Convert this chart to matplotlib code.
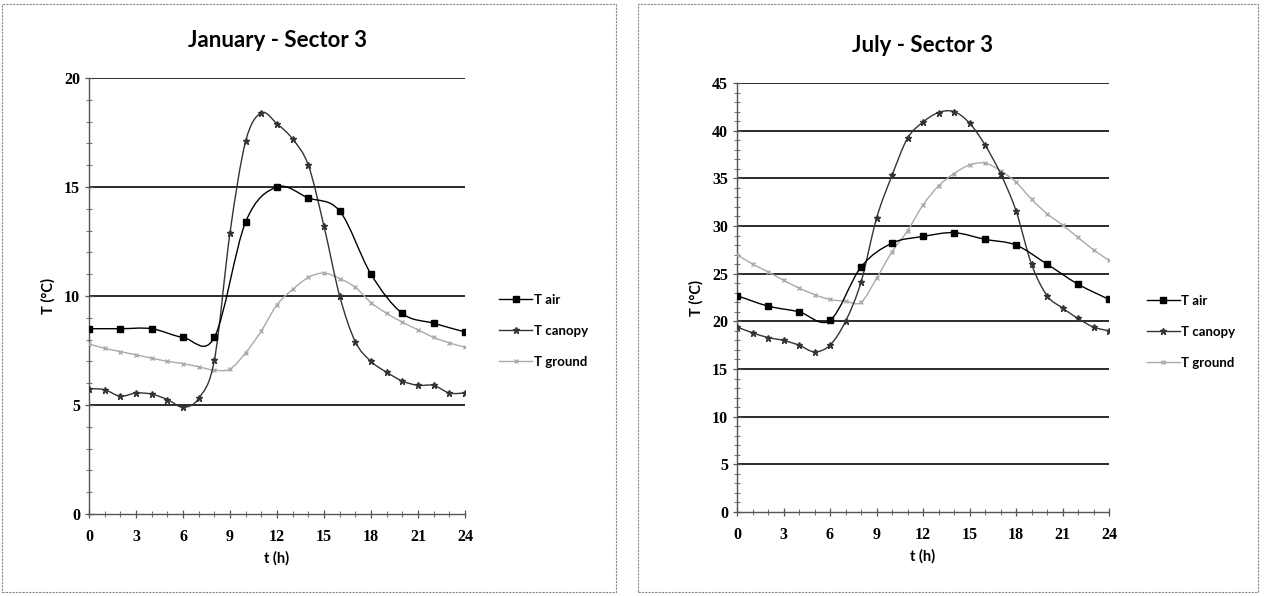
"""
Two-panel daily temperature profiles (January / July, sector 3).
"""

import matplotlib

matplotlib.use("Agg")

import matplotlib.pyplot as plt
import numpy as np
from matplotlib.lines import Line2D
from matplotlib.patches import PathPatch, Rectangle
from matplotlib.path import Path

# Hours of the day.
hours_2h = [0, 2, 4, 6, 8, 10, 12, 14, 16, 18, 20, 22, 24]
hours_1h = [0, 1, 2, 3, 4, 5, 6, 7, 8, 9, 10, 11, 12,
            13, 14, 15, 16, 17, 18, 19, 20, 21, 22, 23, 24]

# January - Sector 3.
jan_air = [8.5, 8.5, 8.5, 8.1, 8.1, 13.4, 15.0, 14.5, 13.9, 11.0, 9.2, 8.75, 8.35]
jan_canopy = [5.75, 5.7, 5.4, 5.55, 5.5, 5.25, 4.9, 5.3, 7.05, 12.9, 17.1, 18.4, 17.9,
              17.2, 16.0, 13.2, 10.0, 7.9, 7.0, 6.5, 6.1, 5.9, 5.9, 5.55, 5.55]
jan_ground = [7.8, 7.6, 7.45, 7.3, 7.15, 7.0, 6.9, 6.75, 6.6, 6.65, 7.4, 8.4, 9.6,
              10.3, 10.85, 11.05, 10.8, 10.4, 9.7, 9.2, 8.8, 8.45, 8.1, 7.85, 7.65]

# July - Sector 3.
jul_air = [22.7, 21.6, 21.0, 20.1, 25.7, 28.2, 28.9, 29.3, 28.6, 28.0, 26.0, 23.9, 22.3]
jul_canopy = [19.4, 18.8, 18.3, 18.0, 17.5, 16.8, 17.5, 20.0, 24.1, 30.8, 35.3, 39.2, 40.9,
              41.9, 42.0, 40.8, 38.5, 35.5, 31.6, 26.0, 22.7, 21.4, 20.3, 19.4, 19.0]
jul_ground = [27.0, 26.0, 25.2, 24.3, 23.5, 22.8, 22.3, 22.1, 22.0, 24.5, 27.3, 29.5, 32.2,
              34.2, 35.5, 36.4, 36.6, 35.8, 34.6, 32.8, 31.3, 30.1, 28.8, 27.5, 26.4]

series_labels = ["T air", "T canopy", "T ground"]

TICK_FONT = "Liberation Serif"
TEXT_FONT = ["Lato", "DejaVu Sans"]


def smooth_path(x, y) -> Path:
    """Excel-like smoothed line through the given points (Catmull-Rom Bezier)."""
    pts = np.column_stack([np.asarray(x, float), np.asarray(y, float)])
    n = len(pts)
    verts = [pts[0]]
    codes = [Path.MOVETO]
    for i in range(n - 1):
        p0 = pts[i - 1] if i > 0 else pts[i]
        p1 = pts[i]
        p2 = pts[i + 1]
        p3 = pts[i + 2] if i + 2 < n else pts[i + 1]
        verts += [p1 + (p2 - p0) / 6.0, p2 - (p3 - p1) / 6.0, p2]
        codes += [Path.CURVE4] * 3
    return Path(verts, codes)


def draw_series(ax, x, y, color, lw, marker, ms, zorder):
    """Draw one smoothed series with its markers."""
    ax.add_patch(PathPatch(smooth_path(x, y), facecolor="none", edgecolor=color,
                           linewidth=lw, zorder=zorder))
    ax.plot(x, y, linestyle="none", marker=marker, markersize=ms, color=color,
            markeredgewidth=1.0, zorder=zorder + 0.1)


def setup_panel(ax, title, ymax, legend_anchor):
    ax.set_xlim(0, 24)
    ax.set_ylim(0, ymax)
    ax.set_xticks(range(0, 25, 3))
    ax.set_xticks(range(0, 25, 1), minor=True)
    ax.set_yticks(range(0, ymax + 1, 5))
    ax.set_yticks(range(0, ymax + 1, 1), minor=True)
    for y in range(5, ymax + 1, 5):
        ax.axhline(y, color="#1a1a1a", linewidth=1.3, zorder=1)
    for side in ("top", "right"):
        ax.spines[side].set_visible(False)
    for side in ("left", "bottom"):
        ax.spines[side].set_color("#555555")
        ax.spines[side].set_linewidth(1.0)
    ax.tick_params(axis="x", which="major", pad=8)
    ax.tick_params(axis="both", which="major", direction="inout", length=6,
                   width=0.9, color="#555555")
    ax.tick_params(axis="both", which="minor", direction="inout", length=4,
                   width=0.8, color="#777777")
    for lab in ax.get_xticklabels() + ax.get_yticklabels():
        lab.set_fontfamily(TICK_FONT)
        lab.set_fontweight("bold")
        lab.set_fontsize(11.5)
    ax.set_title(title, fontsize=16, fontweight="bold", family=TEXT_FONT, pad=22)
    ax.set_xlabel("t (h)", fontsize=10.5, fontweight="bold", family=TEXT_FONT, labelpad=4)
    ax.set_ylabel("T (°C)", fontsize=10.5, fontweight="bold", family=TEXT_FONT, labelpad=6)

    handles = [
        Line2D([], [], color="black", lw=1.0, marker="s", ms=4),
        Line2D([], [], color="#333333", lw=1.0, marker="*", ms=5),
        Line2D([], [], color="#aaaaaa", lw=1.0, marker="x", ms=3),
    ]
    leg = ax.legend(handles, series_labels, loc="center left", bbox_to_anchor=legend_anchor,
                    frameon=False, handlelength=2.5, handletextpad=0.1, labelspacing=1.45,
                    prop={"family": TEXT_FONT, "weight": "bold", "size": 9.5})
    return leg


fig = plt.figure(figsize=(12.67, 5.96), dpi=100)

# Panel frames.
fig.add_artist(Rectangle((2 / 1267, 4 / 596), 614 / 1267, 588 / 596, transform=fig.transFigure,
                         fill=False, edgecolor="#888888", linewidth=0.8, linestyle=(0, (2, 1))))
fig.add_artist(Rectangle((638 / 1267, 4 / 596), 620 / 1267, 588 / 596, transform=fig.transFigure,
                         fill=False, edgecolor="#888888", linewidth=0.8, linestyle=(0, (2, 1))))

ax_jan = fig.add_axes([89 / 1267, (596 - 514) / 596, 376 / 1267, 436 / 596])
ax_jul = fig.add_axes([737 / 1267, (596 - 512) / 596, 372 / 1267, 429 / 596])

setup_panel(ax_jan, "January - Sector 3", 20, (1.06, 0.42))
setup_panel(ax_jul, "July - Sector 3", 45, (1.07, 0.42))

draw_series(ax_jan, hours_1h, jan_ground, "#aaaaaa", 1.0, "x", 3, 3)
draw_series(ax_jan, hours_1h, jan_canopy, "#333333", 1.0, "*", 5, 4)
draw_series(ax_jan, hours_2h, jan_air, "black", 1.0, "s", 4.5, 5)

draw_series(ax_jul, hours_1h, jul_ground, "#aaaaaa", 1.0, "x", 3, 3)
draw_series(ax_jul, hours_1h, jul_canopy, "#333333", 1.0, "*", 5, 4)
draw_series(ax_jul, hours_2h, jul_air, "black", 1.0, "s", 4.5, 5)

fig.savefig("out.png", dpi=100)
